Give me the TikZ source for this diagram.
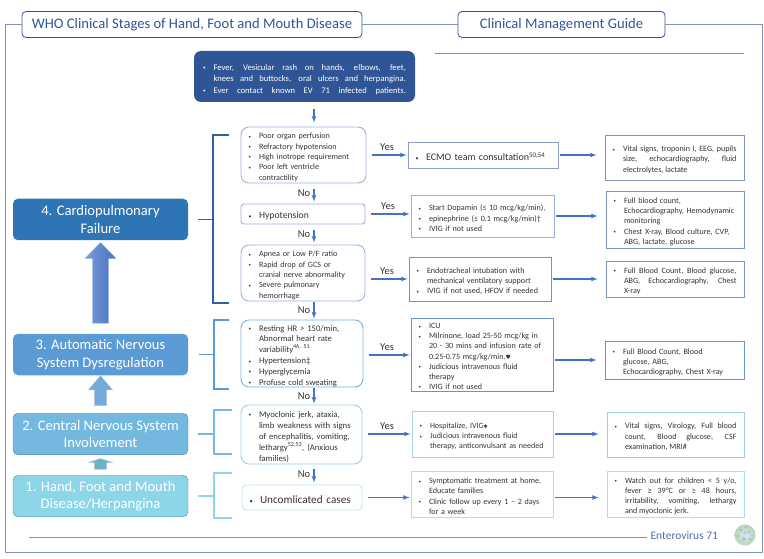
\documentclass[tikz,border=0pt]{standalone}
\usepackage{fontspec}
\usepackage{tikz}
\usepackage{xcolor}
\usetikzlibrary{
    arrows,
    shapes.arrows,
    calc,
    positioning
}
\setmainfont{Carlito}
\newfontfamily\symbfont{DejaVu Sans}
\definecolor{titleblue}{HTML}{2F5597}
\definecolor{frameblue}{HTML}{7F93B4}
\definecolor{flowblue}{HTML}{4472C4}
\definecolor{bracketblue}{HTML}{2F5FAF}
\definecolor{stagefour}{HTML}{2E75B6}
\definecolor{stagethree}{HTML}{5B9BD5}
\definecolor{stagetwo}{HTML}{74B8E0}
\definecolor{stageone}{HTML}{8DD6E8}
\definecolor{bodygrey}{HTML}{333333}
\newcommand{\bul}{\par\hyphenpenalty=10000\exhyphenpenalty=10000\hangindent=10.5pt\hangafter=1\leavevmode\hbox to 10.5pt{\raisebox{0.5pt}{\scalebox{0.6}{\textbullet}}\hss}}
\tikzset{
    titlebox/.style={draw=titleblue, thick, rounded corners=4pt, minimum height=26pt, text=titleblue, font=\fontsize{14.6}{17}\selectfont},
    stagebox/.style={rounded corners=5pt, minimum width=175pt, minimum height=41.5pt, text=white, align=center, font=\fontsize{14.6}{17.5}\selectfont},
    listbox/.style 2 args={draw=#1, line width=0.9pt, text=bodygrey, inner xsep=7.5pt, inner ysep=0pt, text width=#2, font=\fontsize{8.1}{10.3}\selectfont},
    midbox/.style 2 args={listbox={#1}{#2}, align=left},
    sidebox/.style 2 args={listbox={#1}{#2}, align=justify},
    casebox/.style 2 args={listbox={#1}{#2}, rounded corners=8pt, align=left},
    riser/.style={single arrow, inner sep=0pt, rotate=90, single arrow head indent=0pt, draw=white!60!flowblue, line width=0.4pt},
    flow/.style={->, >=latex, draw=flowblue, line width=1.1pt},
    flowno/.style={flow, shorten <=6pt, shorten >=2pt},
    flowtight/.style={flow, shorten <=1pt, shorten >=1pt},
    flowyes/.style={flow, shorten <=6pt, shorten >=1pt},
    flowon/.style={flow, shorten <=2pt, shorten >=8pt},
    bracket/.style={line width=1.5pt},
    answer/.style={midway, text=bodygrey, font=\fontsize{10.5}{12}\selectfont}
}
\begin{document}
\begin{tikzpicture}[x=1pt,y=-1pt]
    \useasboundingbox (0, 0) rectangle (764, 559);
    % headings and frame
    \node[titlebox, minimum width=340pt] (stagetitle) at (192, 24.5) {WHO Clinical Stages of Hand, Foot and Mouth Disease};
    \node[titlebox, minimum width=207pt] (guidetitle) at (561.5, 24.5) {Clinical Management Guide};
    \draw[frameblue, line width=1pt] (stagetitle.east) -- (guidetitle.west) (guidetitle.east) -| (762, 552) -| (5, 552) |- (stagetitle.west);
    \coordinate (ruletop) at (435, 53);
    \coordinate (ruletopend) at (744, 53);
    \draw[frameblue] (ruletop) -- (ruletopend);
    \node[text=titleblue!85, anchor=west, font=\fontsize{11.5}{13}\selectfont] (footer) at (647, 536) {Enterovirus 71};
    \coordinate (rulebottom) at (29, 537);
    \draw[frameblue] (rulebottom) -- (footer.west |- rulebottom);
    % virus
    \shade[inner color=blue!12, outer color=green!30!gray!45] (745, 535) circle (10.5);
    \fill[green!35!gray!60] (741, 530) circle (1.6) (749, 532) circle (1.4) (744, 539) circle (1.8) (750, 539) circle (1.5) (738, 536) circle (1.3) (746, 527) circle (1.2);
    \fill[blue!25] (745, 533) circle (1.9) (740, 541) circle (1.2) (752, 535) circle (1.1);
    % stages
    \node[stagebox, fill=stagefour] (stage4) at (100.5, 219.5) {4. Cardiopulmonary\\Failure};
    \node[stagebox, fill=stagethree] (stage3) at (100.5, 354.5) {3. Automatic Nervous\\System Dysregulation};
    \node[stagebox, fill=stagetwo, draw=stagethree!80!black] (stage2) at (100.5, 434) {2. Central Nervous System\\Involvement};
    \node[stagebox, fill=stageone, draw=stagethree!85!black] (stage1) at (100.5, 496) {1. Hand, Foot and Mouth\\Disease/Herpangina};
    \node[riser, left color=flowblue!70!white, right color=flowblue, minimum height=81pt, single arrow head extend=7.5pt, single arrow tip angle=88] (rise3) at ($(stage3.north)!0.5!(stage4.south)$) {\rule{0pt}{16pt}};
    \node[riser, fill=stagethree!85!white, minimum height=30pt, single arrow head extend=6pt, single arrow tip angle=81] (rise2) at ($(stage2.north)!0.5!(stage3.south)$) {\rule{0pt}{12pt}};
    \node[riser, fill=stagetwo!60!teal!80, minimum height=11pt, single arrow head extend=6pt, single arrow tip angle=143] (rise1) at ($(stage1.north)!0.5!(stage2.south)$) {\rule{0pt}{12pt}};
    % presenting signs
    \node[fill=titleblue, rounded corners=7pt, text=white, inner xsep=9pt, inner ysep=0pt, text width=203pt, minimum height=51pt, align=justify, font=\fontsize{8.6}{11.6}\selectfont] (intro) at (304.5, 76.5) {\parfillskip=0pt\bul Fever, Vesicular rash on hands, elbows, feet,\linebreak knees and buttocks, oral ulcers and herpangina.\bul Ever contact known EV 71 infected patients.\par};
    % cases
    \node[casebox={flowblue!55!white}{110pt}, minimum height=56pt] (perfusion) at (303.5, 155) {\bul Poor organ perfusion\bul Refractory hypotension\bul High inotrope requirement\bul Poor left ventricle contractility\par};
    \node[casebox={flowblue!55!white}{109pt}, rounded corners=3pt, minimum height=20pt, font=\fontsize{9.7}{11}\selectfont] (hypo) at (303, 214) {\bul Hypotension\par};
    \node[casebox={flowblue!55!white}{109pt}, minimum height=56pt] (apnea) at (303, 273) {\bul Apnea or Low P/F ratio\bul Rapid drop of GCS or\newline cranial nerve abnormality\bul Severe pulmonary hemorrhage\par};
    \node[casebox={stagethree!80!white}{107pt}, minimum height=67pt, font=\fontsize{8.6}{10.8}\selectfont] (resting) at (302, 353.5) {\bul Resting HR > 150/min,\newline Abnormal heart rate variability\textsuperscript{46, 51}\bul Hypertension‡\bul Hyperglycemia\bul Profuse cold sweating\par};
    \node[casebox={stagetwo!70!white}{106pt}, minimum height=59pt, font=\fontsize{8.7}{11}\selectfont] (myoclonic) at (301.5, 434.5) {\bul Myoclonic jerk, ataxia,\newline limb weakness with signs\newline of encephalitis, vomiting,\newline lethargy\textsuperscript{52,53}, (Anxious\newline families)\par};
    \node[casebox={stageone!60!white}{105pt}, rounded corners=4pt, minimum height=25pt, font=\fontsize{11.2}{13}\selectfont] (uncomplicated) at (302, 497.5) {\bul Uncomlicated cases\par};
    % management
    \node[midbox={flowblue!60!gray!70}{135pt}, minimum height=26pt, font=\fontsize{10}{12}\selectfont] (ecmo) at (483, 155) {\bul ECMO team consultation\textsuperscript{50,54}\par};
    \node[midbox={flowblue!55!white}{128pt}, minimum height=42pt] (dopamin) at (482.5, 216) {\bul Start Dopamin (≤ 10 mcg/kg/min),\bul epinephrine (≤ 0.1 mcg/kg/min)†\bul IVIG if not used\par};
    \node[midbox={flowblue!70!gray!80}{127pt}, minimum height=44pt] (intubation) at (480, 279) {\bul Endotracheal intubation with mechanical ventilatory support\bul IVIG if not used, HFOV if needed\par};
    \node[midbox={stagethree!85!gray}{127pt}, minimum height=72pt, font=\fontsize{8.1}{10.1}\selectfont] (icu) at (482, 355) {\bul ICU\bul Milrinone, load 25-50 mcg/kg in 20 - 30 mins and infusion rate of 0.25-0.75 mcg/kg/min.{\symbfont\fontsize{6}{8}\selectfont ♥}\bul Judicious intravenous fluid\newline therapy\bul IVIG if not used\par\vspace{2pt}};
    \node[midbox={stagetwo!65!white}{126pt}, minimum height=46pt, font=\fontsize{8}{10.3}\selectfont] (hospital) at (482.5, 434) {\bul Hospitalize, IVIG{\symbfont\fontsize{5}{8}\selectfont ✱}\bul Judicious intravenous fluid\newline therapy, anticonvulsant as needed\par};
    \node[midbox={stageone!75!white}{127pt}, minimum height=46pt] (symptomatic) at (482, 494) {\bul Symptomatic treatment at home. Educate families\bul Clinic follow up every 1 – 2 days for a week\par};
    % monitoring
    \node[sidebox={flowblue!60!gray!80}{124pt}, minimum height=45pt] (monitorA) at (674.5, 157.5) {\bul Vital signs, troponin I, EEG, pupils size, echocardiography, fluid electrolytes, lactate\par};
    \node[midbox={flowblue!60!gray!80}{123pt}, minimum height=57pt] (monitorB) at (675, 219.5) {\bul Full blood count,\newline Echocardiography, Hemodynamic monitoring\bul Chest X-ray, Blood culture, CVP, ABG, lactate, glucose\par};
    \node[sidebox={flowblue!60!gray!80}{123pt}, minimum height=36pt] (monitorC) at (675, 279) {\bul Full Blood Count, Blood glucose, ABG, Echocardiography, Chest X-ray\par};
    \node[midbox={stagethree!85!gray}{124pt}, minimum height=38pt] (monitorD) at (674.5, 360) {\bul Full Blood Count, Blood\newline glucose, ABG,\newline Echocardiography, Chest X-ray\par};
    \node[sidebox={stagetwo!70!white}{122pt}, minimum height=45pt] (monitorE) at (675.5, 434.5) {\bul Vital signs, Virology, Full blood count, Blood glucose, CSF examination, MRI\#\par};
    \node[sidebox={stageone!75!white}{122pt}, minimum height=46pt] (monitorF) at (675.5, 494) {\bul Watch out for children < 5 y/o, fever ≥ 39°C or ≥ 48 hours, irritability, vomiting, lethargy\linebreak and myoclonic jerk.\par};
    % brackets
    \coordinate (armA) at (229, 135);
    \coordinate (armB) at (229, 303);
    \coordinate (armC) at (229, 320);
    \coordinate (armD) at (229, 389);
    \coordinate (armE) at (232, 410);
    \coordinate (armF) at (232, 454);
    \coordinate (armG) at (232, 473);
    \coordinate (armH) at (232, 518);
    \coordinate (stubA) at (198, 219.5);
    \coordinate (stubB) at (199, 354.5);
    \coordinate (stubC) at (198, 434);
    \coordinate (stubD) at (198, 496);
    \draw[bracket, draw=bracketblue] (armA) -| (213, 303) -- (armB) (stubA) -- (213, 219.5);
    \draw[bracket, draw=stagethree] (armC) -| (214, 389) -- (armD) (stubB) -- (214, 354.5);
    \draw[bracket, draw=stagetwo] (armE) -| (214, 454) -- (armF) (stubC) -- (214, 434);
    \draw[bracket, draw=stageone] (armG) -| (214, 518) -- (armH) (stubD) -- (214, 496);
    % flow between the cases
    \coordinate (noaxis) at (314, 0);
    \draw[flow, shorten <=7pt, shorten >=4pt] (intro.south -| noaxis) -- (perfusion.north -| noaxis);
    \draw
    (perfusion.south -| noaxis) edge[flowno] node[answer, left=0pt] (no1) {No} (hypo.north -| noaxis)
    (hypo.south -| noaxis) edge[flowno] node[answer, left=0pt] (no2) {No} (apnea.north -| noaxis)
    (apnea.south -| noaxis) edge[flowtight] node[answer, left=0pt] (no3) {No} (resting.north -| noaxis)
    (resting.south -| noaxis) edge[flowtight] node[answer, left=0pt] (no4) {No} (myoclonic.north -| noaxis)
    (myoclonic.south -| noaxis) edge[flow, shorten <=5pt, shorten >=2pt] node[answer, left=0pt] (no5) {No} (uncomplicated.north -| noaxis);
    % flow to the management
    \draw
    (ecmo.west -| perfusion.east) edge[flowyes] node[answer, above=1pt] (yes1) {Yes} (ecmo.west)
    (hypo.east) edge[flowyes] node[answer, above=1pt] (yes2) {Yes} (hypo.east -| dopamin.west)
    (intubation.west -| apnea.east) edge[flowyes] node[answer, above=1pt] (yes3) {Yes} (intubation.west)
    (icu.west -| resting.east) edge[flowyes] node[answer, above=1pt] (yes4) {Yes} (icu.west)
    (hospital.west -| myoclonic.east) edge[flowyes] node[answer, above=1pt] (yes5) {Yes} (hospital.west)
    (uncomplicated.east) edge[flowyes] (uncomplicated.east -| symptomatic.west);
    % flow to the monitoring
    \draw
    (ecmo.east) edge[flowon] (ecmo.east -| monitorA.west)
    (dopamin.east) edge[flowon] (dopamin.east -| monitorB.west)
    (intubation.east) edge[flowon] (monitorC.west)
    (monitorD.west -| icu.east) edge[flowon] (monitorD.west)
    (hospital.east) edge[flowon] (hospital.east -| monitorE.west)
    (uncomplicated.east -| symptomatic.east) edge[flowon] (uncomplicated.east -| monitorF.west);
\end{tikzpicture}
\end{document}
